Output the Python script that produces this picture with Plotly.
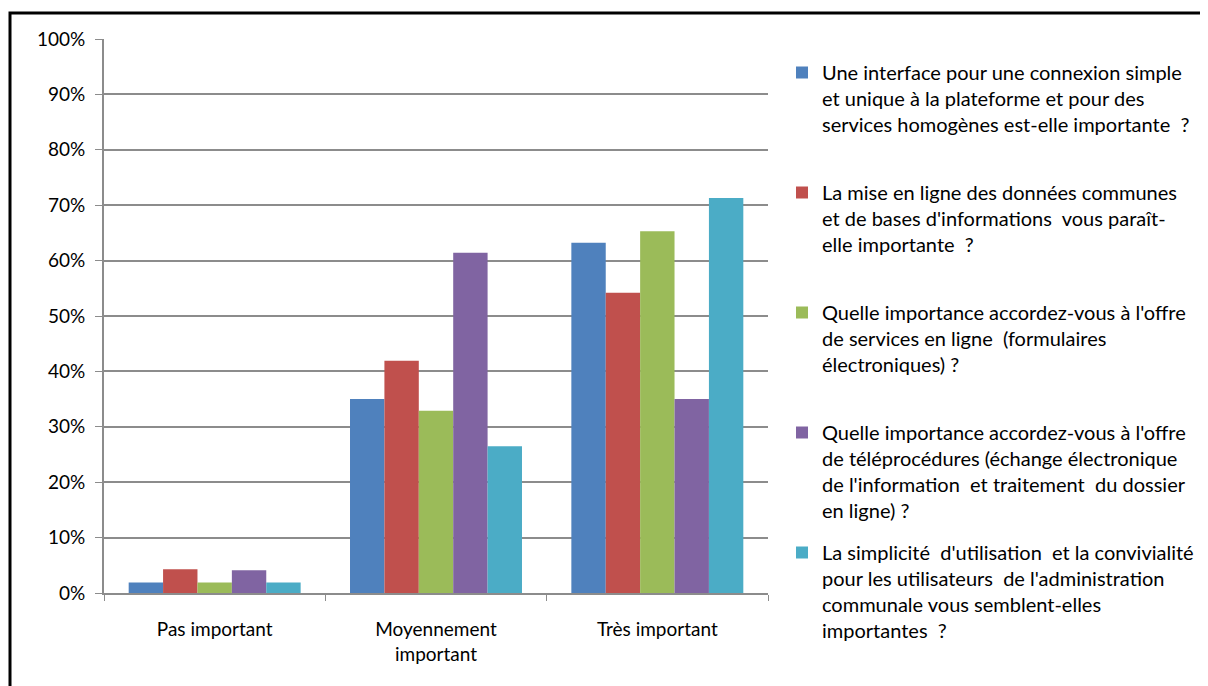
import plotly.graph_objects as go

categories = ["Pas important", "Moyennement<br>important", "Très important"]

series_names = [
    "Une interface pour une connexion simple<br>et unique à la plateforme et pour des<br>services homogènes est-elle importante  ?<br> ",
    "La mise en ligne des données communes<br>et de bases d'informations  vous paraît-<br>elle importante  ?<br> ",
    "Quelle importance accordez-vous à l'offre<br>de services en ligne  (formulaires<br>électroniques) ?<br> ",
    "Quelle importance accordez-vous à l'offre<br>de téléprocédures (échange électronique<br>de l'information  et traitement  du dossier<br>en ligne) ?",
    "La simplicité  d'utilisation  et la convivialité<br>pour les utilisateurs  de l'administration<br>communale vous semblent-elles<br>importantes  ?",
]

interface_vals = [0.019, 0.350, 0.632]
donnees_vals = [0.043, 0.419, 0.542]
services_vals = [0.019, 0.329, 0.653]
teleproc_vals = [0.041, 0.614, 0.350]
simplicite_vals = [0.019, 0.265, 0.713]

colors = ["#4F81BD", "#C0504D", "#9BBB59", "#8064A2", "#4BACC6"]

all_vals = [interface_vals, donnees_vals, services_vals, teleproc_vals, simplicite_vals]

fig = go.Figure()
for i, vals in enumerate(all_vals):
    fig.add_trace(go.Bar(
        x=categories, y=vals, name=series_names[i],
        marker=dict(color=colors[i], line=dict(width=0)),
        legendgroup=str(i),
    ))

# page body adds an 8px margin, so work in shifted coordinates
OFF = 8
W, H = 1200, 678
left, right, top, bottom = 104 - OFF, 768 - OFF, 39 - OFF, 593 - OFF

fig.update_layout(
    width=W, height=H,
    margin=dict(l=left, r=W - right, t=top, b=H - bottom),
    paper_bgcolor="white", plot_bgcolor="white",
    barmode="group", bargap=0.223, bargroupgap=0,
    font=dict(family="Lato, 'Open Sans', sans-serif", size=19, color="#000000"),
    legend=dict(
        xref="container", yref="container",
        x=(782 - OFF) / W, y=1 - (53 - OFF) / H, xanchor="left", yanchor="top",
        font=dict(size=20), valign="top",
        traceorder="grouped", tracegroupgap=13,
        maxheight=660, itemclick=False,
    ),
    showlegend=True,
)

fig.update_yaxes(
    range=[0, 1], tickformat=".0%", dtick=0.1,
    showgrid=True, gridcolor="#8C8C8C", gridwidth=1.5,
    showline=True, linecolor="#8C8C8C", linewidth=2,
    ticks="outside", ticklen=7, tickcolor="#8C8C8C",
    ticklabelstandoff=6,
    zeroline=False, fixedrange=True,
)
fig.update_xaxes(
    showline=True, linecolor="#8C8C8C", linewidth=2,
    ticks="outside", tickson="boundaries", ticklen=6, tickcolor="#8C8C8C",
    ticklabelstandoff=18,
    showgrid=False, fixedrange=True,
)

# outer chart frame (only top and left edges visible in the picture)
px = lambda v: (v - OFF - left) / (right - left)
py = lambda v: (bottom - (v - OFF)) / (bottom - top)
fig.add_shape(type="rect", xref="paper", yref="paper",
              x0=px(10), x1=px(1240), y0=py(720), y1=py(13),
              line=dict(color="black", width=3), layer="above")

fig.write_html("out.html")
